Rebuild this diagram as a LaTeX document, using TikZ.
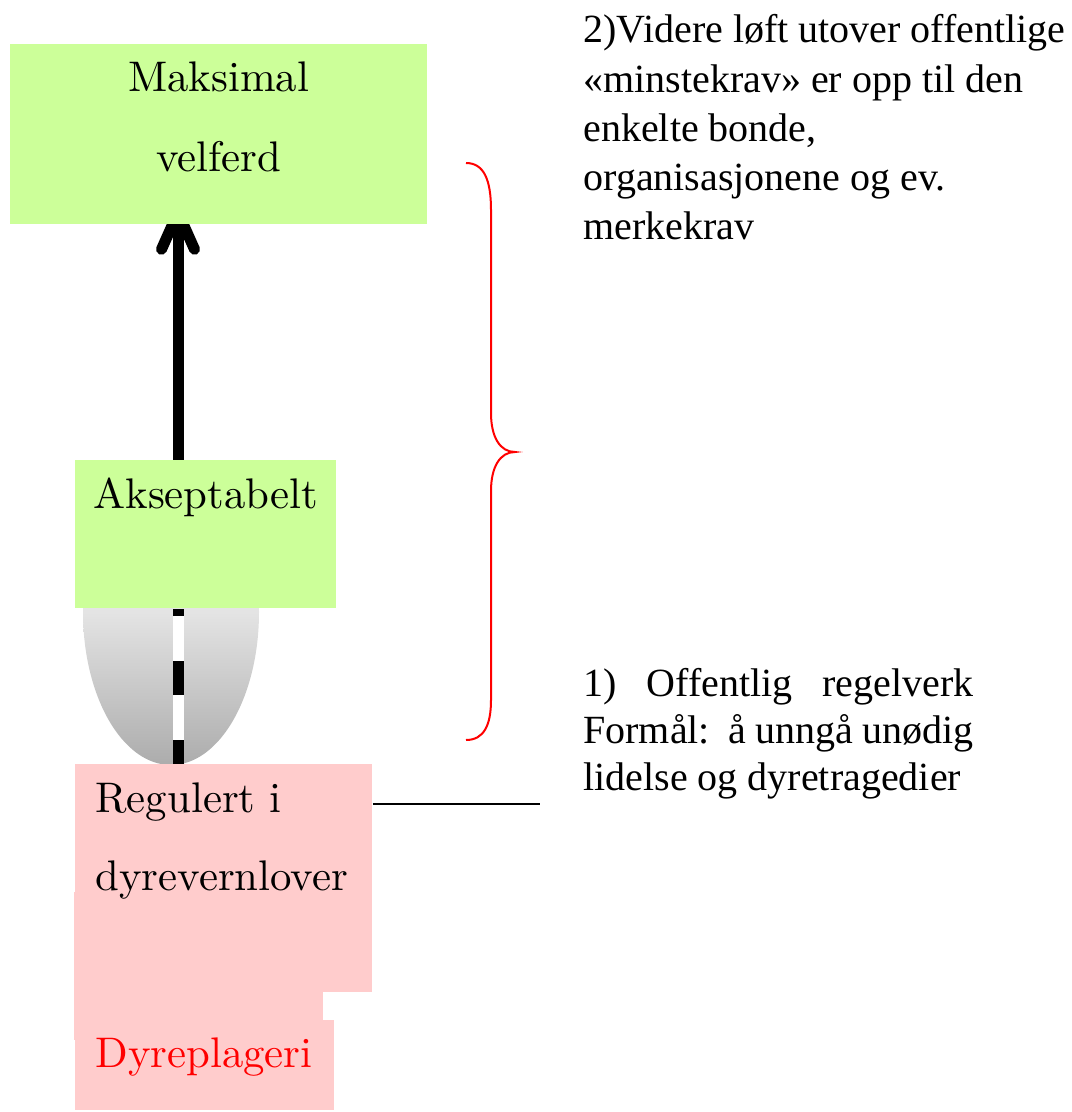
\documentclass[tikz,border=0pt]{standalone}
\usepackage{fontspec}
\newfontfamily\timesfam{Liberation Serif}
\newfontfamily\lmten{lmroman10-regular.otf}
\usetikzlibrary{arrows.meta}
\pgfdeclarelayer{bg}
\pgfsetlayers{bg,main}
\definecolor{boxgreen}{HTML}{CCFF99}
\definecolor{boxpink}{HTML}{FFCCCC}
\definecolor{ellmid}{HTML}{E4E4E4}
\definecolor{ellbot}{HTML}{ACACAC}
\begin{document}
\begin{tikzpicture}[x=0.5pt,y=-0.5pt,
  boxg/.style={fill=boxgreen, inner sep=0pt, anchor=north west},
  boxp/.style={fill=boxpink, inner sep=0pt, anchor=north west},
  lmtext/.style={font=\lmten\fontsize{21.4}{25}\selectfont, inner sep=0pt},
  tmtext/.style={font=\timesfam\fontsize{20}{24}\selectfont, inner sep=0pt, anchor=base west},
  thin line/.style={line width=1pt},
]
\useasboundingbox (0,0) rectangle (1071,1112);

% boxes
\node[boxg, minimum width=208.5pt, minimum height=90pt] (maks) at (10,44) {};
\node[boxg, minimum width=130.5pt, minimum height=74pt] (aksept) at (75,460) {};
\node[boxp, minimum width=148.5pt, minimum height=114pt] (reg) at (75,764) {};
\node[boxp, minimum width=124.5pt, minimum height=74pt] (regb) at (74,892) {};
\node[boxp, minimum width=129.5pt, minimum height=45pt] (plag) at (75,1020) {};

% box texts
\node[lmtext, anchor=base] (t1) at (218.5,92) {Maksimal};
\node[lmtext, anchor=base] (t2) at (218.5,172) {velferd};
\node[lmtext, anchor=base west] (t3) at (93,508) {Akseptabelt};
\node[lmtext, anchor=base west] (t4) at (95,812) {Regulert i};
\node[lmtext, anchor=base west] (t5) at (95,890) {dyrevernlover};
\node[lmtext, anchor=base west, text=red] (t6) at (95,1067) {Dyreplageri};

% right texts
\node[tmtext] (r1) at (583,43) {2)Videre løft utover offentlige};
\node[tmtext] (r2) at (583,92.5) {«minstekrav» er opp til den};
\node[tmtext] (r3) at (583,142) {enkelte bonde,};
\node[tmtext] (r4) at (583,191) {organisasjonene og ev.};
\node[tmtext] (r5) at (583,240) {merkekrav};
\node[tmtext] (s1) at (583,696) {\makebox[195pt][s]{1) Offentlig regelverk}};
\node[tmtext] (s2) at (583,743) {\makebox[195pt][s]{Formål:\ \ å unngå unødig}};
\node[tmtext] (s3) at (583,790) {lidelse og dyretragedier};

% connectors
\coordinate (ax) at (178,0);
\coordinate (lend) at (540,804);
\draw[thin line] (reg.east |- lend) -- (lend);

% brace
\draw[red, thin line] (466,163) .. controls (484,163) and (491,180) .. (491,210)
  -- (491,413) .. controls (491,437) and (500,452) .. (515,452)
  .. controls (500,452) and (491,467) .. (491,491)
  -- (491,700) .. controls (491,725) and (484,740) .. (466,740);

\begin{pgfonlayer}{bg}
\shade[top color=white, bottom color=ellbot, middle color=ellmid] (171,612) ellipse [x radius=44pt, y radius=76.5pt];
\draw[white, line width=5.5pt] (reg.north -| ax) -- (aksept.south -| ax);
\draw[black, line width=5.5pt, dash pattern=on 17pt off 22.5pt, dash phase=5pt] (reg.north -| ax) -- (aksept.south -| ax);
\draw[line width=5.5pt, -{Straight Barb[length=18.5pt, width=16.5pt, line cap=round, line join=round]}, shorten >=-9pt] (aksept.north -| ax) -- (maks.south -| ax);
\end{pgfonlayer}
\end{tikzpicture}
\end{document}
